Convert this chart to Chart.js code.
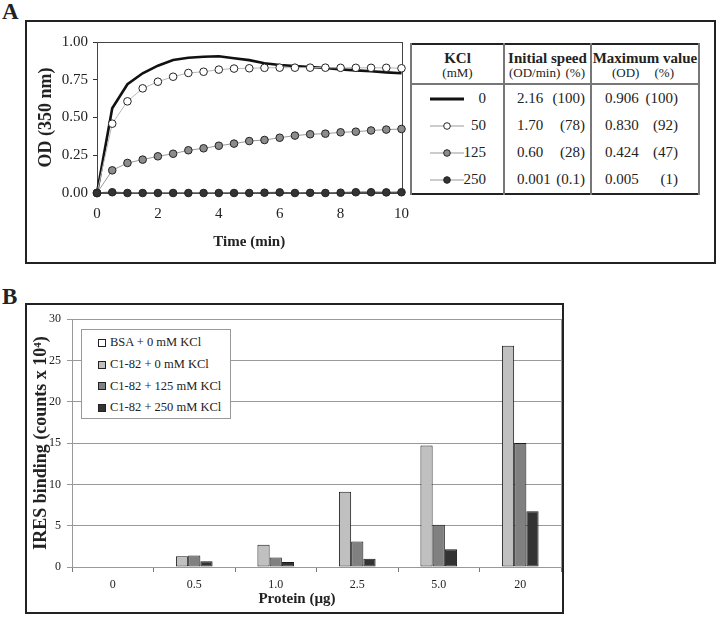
<!DOCTYPE html>
<html lang="en">
<head>
<meta charset="utf-8">
<title>KCl and C1-82</title>
<script src="https://cdn.jsdelivr.net/npm/chart.js@4.4.1/dist/chart.umd.min.js"></script>
<style>
  body { margin: 0; width: 720px; height: 618px; position: relative; overflow: hidden; background: #fff;
         font-family: "Liberation Serif", "Times New Roman", serif; color: #222; }
  .letter { position: absolute; left: 2px; font-size: 23px; line-height: 23px; font-weight: bold; }
  .box { position: absolute; border: 2px solid #222; box-sizing: border-box; }
  canvas { position: absolute; }
  #kcl-table { position: absolute; left: 410px; top: 43px; width: 288px; border-collapse: collapse;
               table-layout: fixed; border: 2px solid #222; background: #fff; font-size: 15px; }
  #kcl-table th, #kcl-table td { padding: 0; border-left: 2px solid #777; border-right: 2px solid #777; }
  #kcl-table th { height: 40px; vertical-align: top; padding-top: 5px; border-bottom: 2px solid #777;
                  font-weight: normal; text-align: center; box-sizing: border-box; }
  #kcl-table td { height: 27px; }
  .h1 { font-weight: bold; font-size: 15px; line-height: 16px; white-space: nowrap; }
  .h2 { font-size: 13px; line-height: 14px; white-space: nowrap; }
  .pair { display: flex; justify-content: space-between; white-space: nowrap; }
  .kcl-cell { display: flex; align-items: center; padding-left: 18px; }
  .kcl-cell span { flex: 1; text-align: right; padding-right: 17px; }
  #legend-b { position: absolute; left: 81px; top: 329px; width: 150px; height: 90px; box-sizing: border-box;
              border: 1px solid #999; background: #fff; padding-top: 2px; font-size: 12.5px; }
  #legend-b div { height: 21.7px; display: flex; align-items: center; white-space: nowrap; }
  #legend-b i { display: inline-block; width: 6px; height: 6px; border: 1px solid #222; margin: 0 4px 0 16px; }
  #protein-title { position: absolute; left: 197px; width: 200px; top: 589px; line-height: 18px;
                   text-align: center; font-weight: bold; font-size: 15px; }
</style>
</head>
<body>
<div class="letter" style="top:0">A</div>
<div class="box" style="left:25px;top:20px;width:691px;height:244px"></div>
<canvas id="chartA" width="395" height="239" style="left:26px;top:22px"></canvas>
<table id="kcl-table">
  <colgroup><col style="width:93px"><col style="width:87px"><col style="width:108px"></colgroup>
  <thead>
    <tr>
      <th><div class="h1">KCl</div><div class="h2">(mM)</div></th>
      <th><div class="h1">Initial speed</div><div class="h2 pair" style="padding:0 5px 0 4px"><span>(OD/min)</span><span>(%)</span></div></th>
      <th><div class="h1">Maximum value</div><div class="h2 pair" style="padding:0 24px 0 20px"><span>(OD)</span><span>(%)</span></div></th>
    </tr>
  </thead>
  <tbody id="kcl-body"></tbody>
</table>

<div class="letter" style="top:285px">B</div>
<div class="box" style="left:25px;top:303px;width:539px;height:311px"></div>
<canvas id="chartB" width="536" height="305" style="left:26px;top:306px"></canvas>
<div id="legend-b"></div>
<div id="protein-title">Protein (µg)</div>

<script>
// Painel A: cinética de turbidez (OD 350 nm) por concentração de KCl
const timeMin = [0, 0.5, 1, 1.5, 2, 2.5, 3, 3.5, 4, 4.5, 5, 5.5, 6, 6.5, 7, 7.5, 8, 8.5, 9, 9.5, 10];
const od0 = [0, 0.561, 0.72, 0.793, 0.843, 0.881, 0.896, 0.902, 0.906, 0.892, 0.88, 0.859, 0.848, 0.841, 0.834, 0.828, 0.819, 0.812, 0.806, 0.799, 0.793];
const od50 = [0, 0.459, 0.607, 0.693, 0.737, 0.77, 0.795, 0.803, 0.817, 0.824, 0.826, 0.829, 0.83, 0.83, 0.83, 0.83, 0.829, 0.829, 0.829, 0.829, 0.826];
const od125 = [0, 0.15, 0.199, 0.221, 0.243, 0.26, 0.283, 0.296, 0.313, 0.327, 0.344, 0.351, 0.366, 0.38, 0.389, 0.393, 0.402, 0.406, 0.414, 0.42, 0.424];
const od250 = [0, 0.005, 0, 0, 0, 0, 0, 0, 0, 0, 0, 0.002, 0.004, 0, 0.001, 0, 0.002, 0.005, 0.005, 0.004, 0.005];
const odTicks = [0, 0.25, 0.5, 0.75, 1];

// Tabela do painel A
const kclMM = ['0', '50', '125', '250'];
const initialSpeed = ['2.16', '1.70', '0.60', '0.001'];
const initialSpeedPct = ['(100)', '(78)', '(28)', '(0.1)'];
const maxValue = ['0.906', '0.830', '0.424', '0.005'];
const maxValuePct = ['(100)', '(92)', '(47)', '(1)'];

// Painel B: ligação ao IRES
const proteinUg = ['0', '0.5', '1.0', '2.5', '5.0', '20'];
const bsa0 = [0, 0, 0, 0, 0, 0];
const c182k0 = [0, 1.3, 2.7, 9.1, 14.7, 26.8];
const c182k125 = [0, 1.4, 1.15, 3.1, 5.1, 15.0];
const c182k250 = [0, 0.7, 0.6, 1.0, 2.15, 6.75];

const SERIF = '"Liberation Serif", "Times New Roman", serif';
Chart.defaults.font.family = SERIF;
Chart.defaults.color = '#222';

// Moldura da área do gráfico
function framePlugin(color, width) {
  return {
    id: 'frame',
    beforeDatasetsDraw(chart) {
      const { ctx, chartArea: a } = chart;
      ctx.save();
      ctx.strokeStyle = color;
      ctx.lineWidth = width;
      ctx.strokeRect(Math.round(a.left) + 0.5, Math.round(a.top) + 0.5, Math.round(a.right - a.left), Math.round(a.bottom - a.top));
      ctx.restore();
    }
  };
}

function pontos(values) {
  return timeMin.map((t, i) => ({ x: t, y: values[i] }));
}

const seriesStyle = [
  { data: od0, line: '#111', width: 2.6, fill: null, order: 4 },
  { data: od50, line: '#b8b8b8', width: 1, fill: '#fff', order: 3 },
  { data: od125, line: '#999', width: 1, fill: '#8c8c8c', order: 2 },
  { data: od250, line: '#555', width: 1.5, fill: '#333', order: 1 }
];

function criarGraficoA() {
  new Chart(document.getElementById('chartA'), {
    type: 'line',
    data: {
      datasets: seriesStyle.map((s, i) => ({
        label: kclMM[i] + ' mM',
        data: pontos(s.data),
        borderColor: s.line,
        borderWidth: s.width,
        tension: 0,
        order: s.order,
        clip: false,
        pointRadius: s.fill ? 3.8 : 0,
        pointBorderWidth: 1,
        pointBorderColor: '#222',
        pointBackgroundColor: s.fill || '#000'
      }))
    },
    options: {
      responsive: false,
      animation: false,
      devicePixelRatio: 1,
      layout: { padding: { top: 20, right: 18, left: 0, bottom: 0 } },
      plugins: { legend: { display: false }, tooltip: { enabled: false } },
      scales: {
        x: {
          type: 'linear', min: 0, max: 10,
          ticks: { stepSize: 2, padding: 12, font: { size: 15 }, color: '#222' },
          grid: { display: false, drawTicks: false },
          border: { color: '#333', width: 1 },
          title: { display: true, text: 'Time (min)', font: { size: 15, weight: 'bold' }, padding: { top: 0, bottom: 10 }, color: '#222' },
          afterFit: (s) => { s.height = 68; }
        },
        y: {
          min: 0, max: 1,
          afterBuildTicks: (s) => { s.ticks = odTicks.map((v) => ({ value: v })); },
          ticks: { padding: 5, font: { size: 15 }, color: '#222', callback: (v) => Number(v).toFixed(2) },
          grid: { drawOnChartArea: false, tickLength: 4, color: '#333' },
          border: { color: '#333', width: 1 },
          title: { display: true, text: 'OD (350 nm)', font: { size: 18, weight: 'bold' }, padding: { top: 10, bottom: 0 }, color: '#222' },
          afterFit: (s) => { s.width = 71; }
        }
      }
    },
    plugins: [framePlugin('#444', 1)]
  });
}

// Monta as linhas da tabela com a amostra de cada série
function montarTabela() {
  const body = document.getElementById('kcl-body');
  kclMM.forEach((k, i) => {
    const s = seriesStyle[i];
    const amostra = s.fill
      ? `<svg width="34" height="10"><line x1="0" y1="5" x2="34" y2="5" stroke="#999" stroke-width="1"/><circle cx="17" cy="5" r="3.3" fill="${s.fill}" stroke="#222" stroke-width="1"/></svg>`
      : `<svg width="34" height="10"><line x1="0" y1="5" x2="34" y2="5" stroke="#111" stroke-width="3"/></svg>`;
    const tr = document.createElement('tr');
    tr.innerHTML = `
      <td><div class="kcl-cell">${amostra}<span>${k}</span></div></td>
      <td><div class="pair" style="padding:0 5px 0 12px;gap:4px"><span>${initialSpeed[i]}</span><span>${initialSpeedPct[i]}</span></div></td>
      <td><div class="pair" style="padding:0 20px 0 13px"><span>${maxValue[i]}</span><span>${maxValuePct[i]}</span></div></td>`;
    body.appendChild(tr);
  });
}

function criarGraficoB() {
  const chart = new Chart(document.getElementById('chartB'), {
    type: 'bar',
    data: {
      labels: proteinUg,
      datasets: [
        { label: 'BSA + 0 mM KCl', data: bsa0, backgroundColor: '#ffffff', grouped: false },
        { label: 'C1-82 + 0 mM KCl', data: c182k0, backgroundColor: '#c0c0c0' },
        { label: 'C1-82 + 125 mM KCl', data: c182k125, backgroundColor: '#808080' },
        { label: 'C1-82 + 250 mM KCl', data: c182k250, backgroundColor: '#333333' }
      ]
    },
    options: {
      responsive: false,
      animation: false,
      devicePixelRatio: 1,
      layout: { padding: { top: 10, right: 1, left: 0, bottom: 0 } },
      datasets: {
        bar: { borderColor: '#1a1a1a', borderWidth: 1, borderSkipped: false, categoryPercentage: 0.45, barPercentage: 1 }
      },
      plugins: { legend: { display: false }, tooltip: { enabled: false } },
      scales: {
        x: {
          ticks: { padding: 6, font: { size: 12 }, color: '#222' },
          grid: { drawOnChartArea: false, tickLength: 5, color: '#777', offset: true },
          border: { color: '#555', width: 1 },
          afterFit: (s) => { s.height = 44; }
        },
        y: {
          min: 0, max: 30,
          ticks: { stepSize: 5, padding: 6, font: { size: 12 }, color: '#222' },
          grid: { color: '#999', tickLength: 5 },
          border: { color: '#888', width: 1 },
          title: { display: true, text: 'IRES binding (counts x 10⁴)', font: { size: 18, weight: 'bold' }, padding: { top: 5, bottom: 0 }, color: '#222' },
          afterFit: (s) => { s.width = 46; }
        }
      }
    },
    plugins: [framePlugin('#999', 1)]
  });

  // Legenda em HTML a partir dos datasets
  const legenda = document.getElementById('legend-b');
  chart.data.datasets.forEach((ds) => {
    const row = document.createElement('div');
    row.innerHTML = `<i style="background:${ds.backgroundColor}"></i>${ds.label}`;
    legenda.appendChild(row);
  });
}

criarGraficoA();
montarTabela();
criarGraficoB();
</script>
</body>
</html>
